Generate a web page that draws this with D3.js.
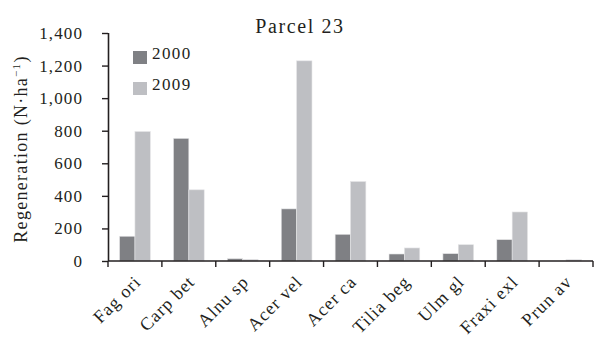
<!DOCTYPE html>
<html>
<head>
<meta charset="utf-8">
<script src="https://cdn.jsdelivr.net/npm/d3@7"></script>
<style>
  html, body { margin: 0; padding: 0; background: #fff; }
  svg text { font-family: "Liberation Serif", "DejaVu Serif", serif; fill: #231f20; }
</style>
</head>
<body>
<svg id="chart" width="594" height="338"></svg>
<script>
// Tree species regeneration, Parcel 23
const species = ["Fag ori", "Carp bet", "Alnu sp", "Acer vel", "Acer ca", "Tilia beg", "Ulm gl", "Fraxi exl", "Prun av"];
const years = ["2000", "2009"];
const values2000 = [152, 753, 14, 320, 164, 43, 45, 131, 0];
const values2009 = [795, 437, 10, 1229, 488, 80, 100, 301, 8];
const yTicks = [0, 200, 400, 600, 800, 1000, 1200, 1400];
const colors = ["#7f8084", "#bebfc3"];

const svg = d3.select("#chart");
const margin = { left: 108, right: 1, top: 33, bottom: 77 };
const W = 594, H = 338;

const x = d3.scaleBand().domain(species).range([margin.left, W - margin.right]).paddingInner(0.43).paddingOuter(0.215);
const xStep = d3.scaleBand().domain(species).range([margin.left, W - margin.right]).padding(0);
const xs = d3.scaleBand().domain(years).range([0, x.bandwidth()]);
const y = d3.scaleLinear().domain([0, 1400]).range([H - margin.bottom, margin.top]);

const rows = species.map((s, i) => ({ s, v: [values2000[i], values2009[i]] }));

// bars
const g = svg.append("g");
g.selectAll("g.grp").data(rows).join("g")
  .attr("class", "grp")
  .attr("transform", d => `translate(${x(d.s)},0)`)
  .selectAll("rect").data(d => d.v.map((v, k) => ({ v, k })))
  .join("rect")
  .attr("x", d => xs(years[d.k]))
  .attr("width", xs.bandwidth())
  .attr("y", d => y(d.v))
  .attr("height", d => y(0) - y(d.v))
  .attr("fill", d => colors[d.k])
  .attr("stroke", d => d.v > 0 ? "#e4e4e6" : "none")
  .attr("stroke-width", 0.6);

// y axis
const yAxis = svg.append("g")
  .attr("transform", `translate(${margin.left},0)`)
  .call(d3.axisLeft(y).tickValues(yTicks).tickSize(6).tickPadding(19).tickFormat(d3.format(",")));
yAxis.select(".domain").attr("stroke", "#231f20").attr("stroke-width", 1.6).attr("d", `M0.5,${y(0)}V${y(1400)}`);
yAxis.selectAll(".tick line").attr("stroke", "#231f20").attr("stroke-width", 1.4);
yAxis.selectAll(".tick text")
  .attr("font-size", 17).attr("fill", "#231f20")
  .attr("letter-spacing", 1.1)
  .style("font-family", "Liberation Serif");

// x axis with ticks between categories
const xAxisG = svg.append("g").attr("transform", `translate(0,${y(0)})`);
xAxisG.append("line")
  .attr("x1", margin.left).attr("x2", W - margin.right)
  .attr("stroke", "#231f20").attr("stroke-width", 1.6);
const bounds = species.map(s => xStep(s)).concat([xStep(species[species.length - 1]) + xStep.bandwidth()]);
xAxisG.selectAll("line.tk").data(bounds).join("line")
  .attr("class", "tk")
  .attr("x1", d => d).attr("x2", d => d)
  .attr("y1", 0).attr("y2", 6)
  .attr("stroke", "#231f20").attr("stroke-width", 1.4);
xAxisG.selectAll("text").data(species).join("text")
  .attr("text-anchor", "end")
  .attr("font-size", 18)
  .attr("letter-spacing", 1.0)
  .attr("transform", s => `translate(${xStep(s) + xStep.bandwidth() / 2 + 7},${22}) rotate(-45)`)
  .text(s => s);

// title
svg.append("text")
  .attr("x", 300).attr("y", 33)
  .attr("text-anchor", "middle")
  .attr("font-size", 20)
  .attr("letter-spacing", 1.6)
  .text("Parcel 23");

// y axis title
const yt = svg.append("text")
  .attr("transform", `translate(27,${149}) rotate(-90)`)
  .attr("text-anchor", "middle")
  .attr("font-size", 18)
  .attr("letter-spacing", 1.3);
yt.append("tspan").text("Regeneration (N·ha");
yt.append("tspan").attr("dy", -7).attr("font-size", 11).text("−1");
yt.append("tspan").attr("dy", 7).text(")");

// legend
const legend = svg.append("g").attr("transform", "translate(133,51)");
years.forEach((yr, i) => {
  const row = legend.append("g").attr("transform", `translate(0,${i * 31})`);
  row.append("rect").attr("width", 14).attr("height", 13).attr("fill", colors[i]);
  row.append("text").attr("x", 19).attr("y", 8).attr("font-size", 17).attr("letter-spacing", 1.4).text(yr);
});
</script>
</body>
</html>
